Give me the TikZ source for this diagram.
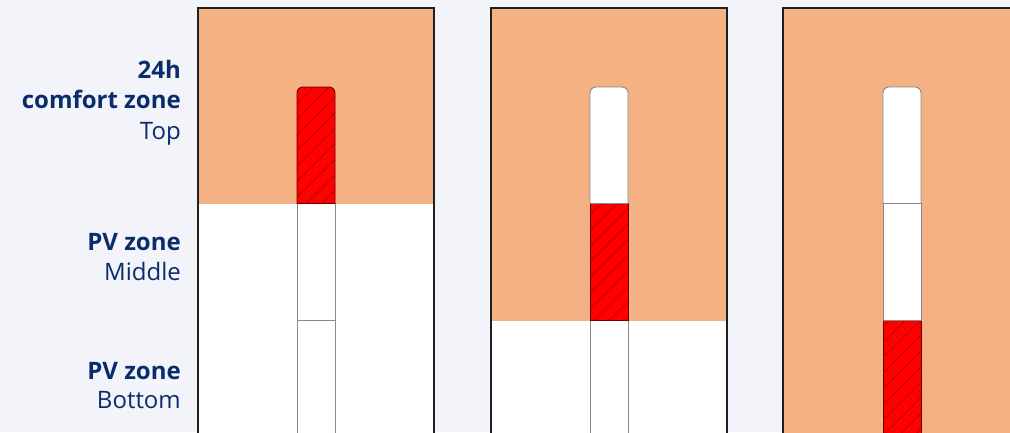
\documentclass[tikz,border=0pt]{standalone}
\usepackage{fontspec}
\setmainfont{Open Sans}
\usetikzlibrary{patterns.meta}
\definecolor{bgc}{HTML}{F2F4F9}
\definecolor{warm}{HTML}{F4B183}
\definecolor{txtblue}{HTML}{0B2C6B}
\definecolor{hatchred}{HTML}{B00000}
\definecolor{tubegray}{HTML}{8A8A8A}
\begin{document}
\begin{tikzpicture}[x=1pt,y=-1pt,
  tankline/.style={draw=black!88,line width=2pt},
  tubeseg/.style={draw=tubegray,line width=0.9pt,fill=white},
  hot/.style={draw=black!60!red,line width=0.9pt,fill=red,
    postaction={pattern={Lines[angle=45,distance=11pt,line width=0.7pt]},pattern color=hatchred}},
  lblbold/.style={anchor=base east,font=\fontsize{24}{28}\selectfont\bfseries,text=txtblue,inner sep=0pt},
  lblreg/.style={anchor=base east,font=\fontsize{24}{28}\selectfont,text=txtblue,inner sep=0pt}]
\useasboundingbox (0,0) rectangle (1010,432);
\clip (0,0) rectangle (1010,432);
\fill[bgc] (0,0) rectangle (1010,432);
% labels
\node[lblbold] (l1a) at (181,78) {24h};
\node[lblbold] (l1b) at (181,108) {comfort zone};
\node[lblreg] (l1c) at (181,139) {Top};
\node[lblbold] (l2a) at (181,250) {PV zone};
\node[lblreg] (l2b) at (181,280) {Middle};
\node[lblbold] (l3a) at (181,379) {PV zone};
\node[lblreg] (l3b) at (181,408) {Bottom};
% tanks: fills
\fill[white] (198,8) rectangle (434,440);
\fill[warm] (198,8) rectangle (434,203.5);
\fill[white] (491,8) rectangle (727,440);
\fill[warm] (491,8) rectangle (727,320.5);
\fill[warm] (783,8) rectangle (1019,440);
% tube 1
\path[tubeseg] (297,320.5) rectangle (335,440);
\path[tubeseg] (297,203.5) rectangle (335,320.5);
\path[hot] (297,203.5) -- (297,93) arc[start angle=180,end angle=270,radius=6] -- (329,87) arc[start angle=270,end angle=360,radius=6] -- (335,203.5) -- cycle;
% tube 2
\path[tubeseg] (590,320.5) rectangle (628,440);
\path[hot] (590,203.5) rectangle (628,320.5);
\path[tubeseg] (590,203.5) -- (590,93) arc[start angle=180,end angle=270,radius=6] -- (622,87) arc[start angle=270,end angle=360,radius=6] -- (628,203.5) -- cycle;
% tube 3
\path[hot] (883,320.5) rectangle (921,440);
\path[tubeseg] (883,203.5) rectangle (921,320.5);
\path[tubeseg] (883,203.5) -- (883,93) arc[start angle=180,end angle=270,radius=6] -- (915,87) arc[start angle=270,end angle=360,radius=6] -- (921,203.5) -- cycle;
% tank outlines
\draw[tankline] (198,440) -- (198,8) -- (434,8) -- (434,440);
\draw[tankline] (491,440) -- (491,8) -- (727,8) -- (727,440);
\draw[tankline] (783,440) -- (783,8) -- (1019,8) -- (1019,440);
\end{tikzpicture}
\end{document}
